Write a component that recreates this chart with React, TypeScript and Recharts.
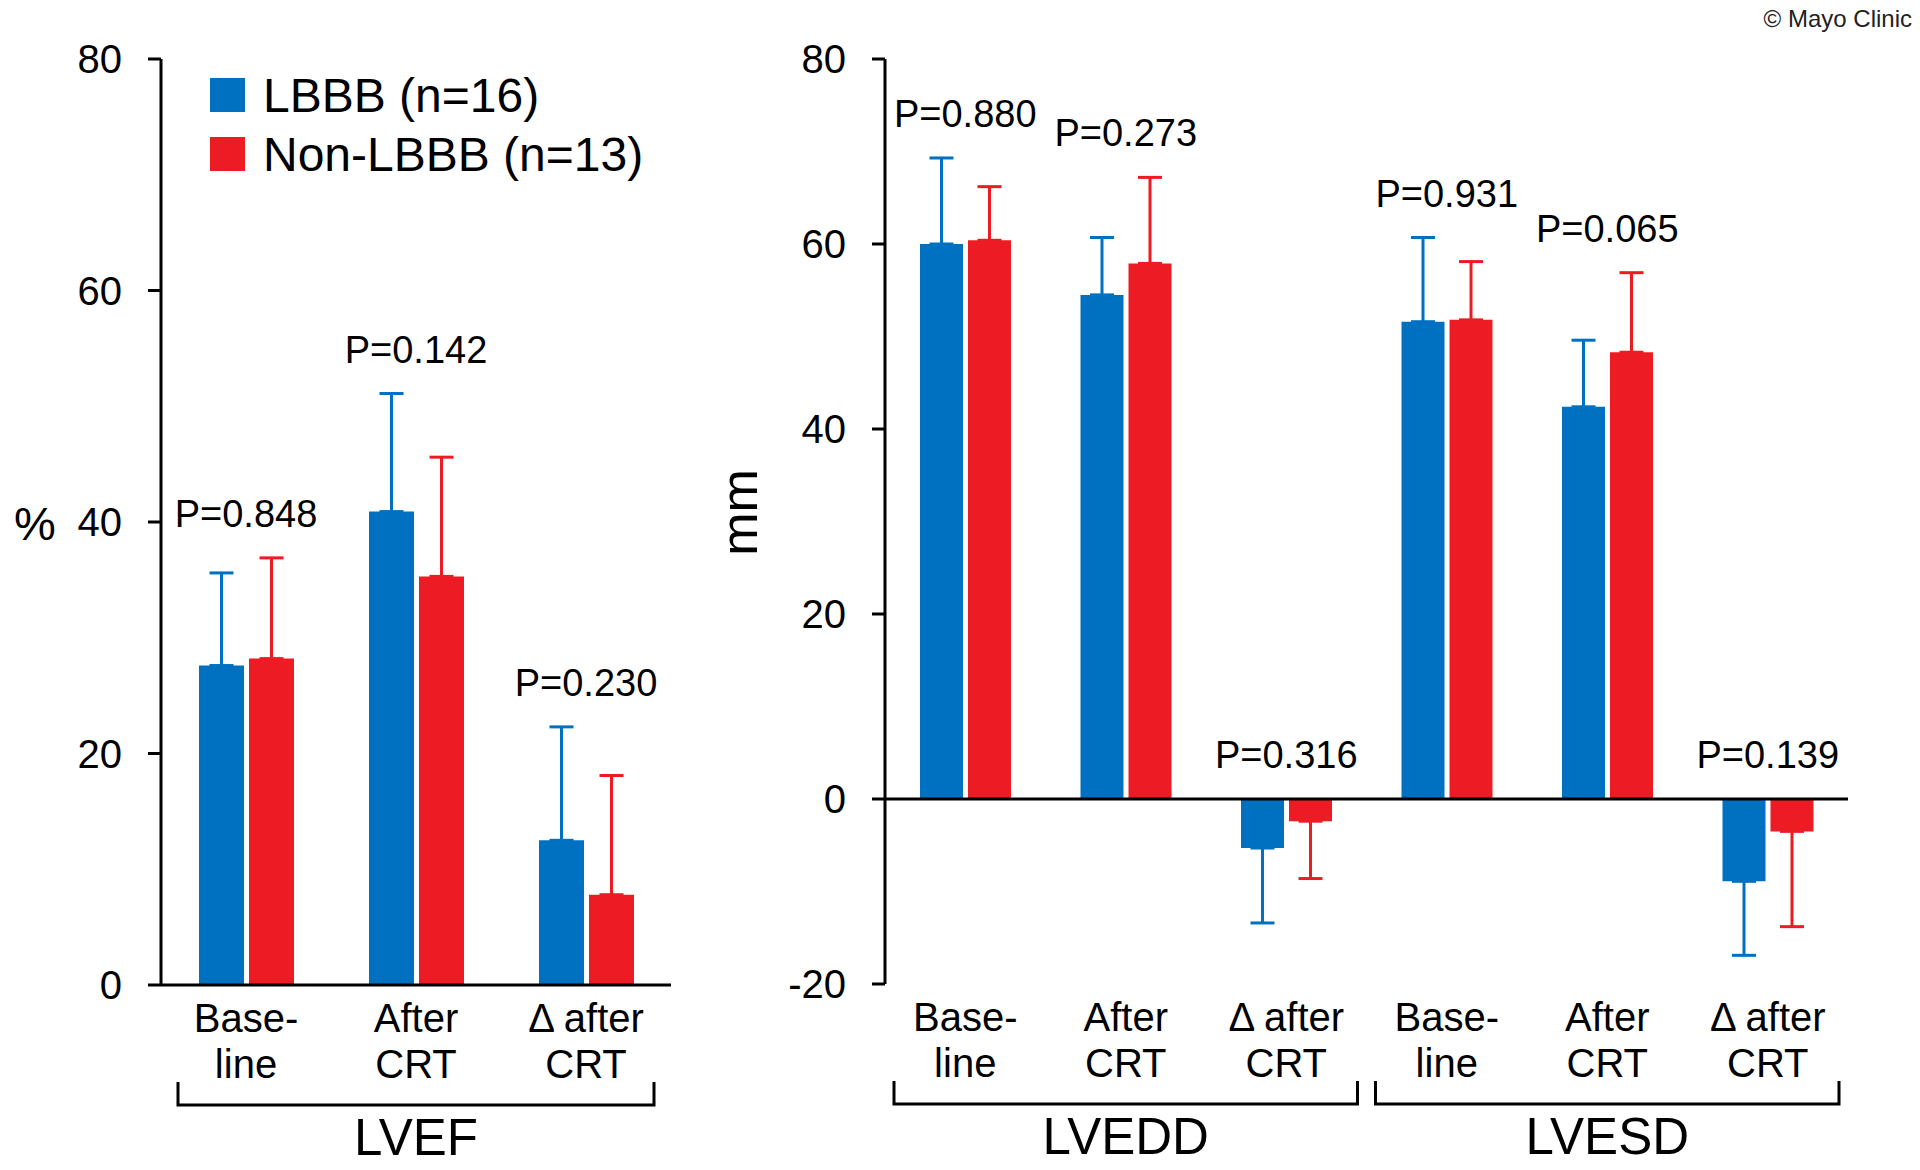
import React from 'react';
import {
  ComposedChart,
  Bar,
  Line,
  XAxis,
  YAxis,
  ErrorBar,
  ReferenceLine,
  LabelList,
  Legend,
  Label,
} from 'recharts';

const FONT = '"Liberation Sans", Arial, Helvetica, sans-serif';
const BLUE = '#0070c0';
const RED = '#ed1c24';

// ---- shared tick labels ----
const tickLabelLines = [
  ['Base-', 'line'],
  ['After', 'CRT'],
  ['\u0394 after', 'CRT'],
];

// ---- LVEF (%) ----
const lvefCategories = ['LVEF Baseline', 'LVEF After CRT', 'LVEF Delta after CRT'];
const lvefLbbb = [27.6, 40.9, 12.5];
const lvefLbbbSd = [8.0, 10.2, 9.8];
const lvefNonLbbb = [28.2, 35.3, 7.8];
const lvefNonLbbbSd = [8.7, 10.3, 10.3];
const lvefP = ['P=0.848', 'P=0.142', 'P=0.230'];
const lvefGroups = ['LVEF'];
const lvefTicks = [0, 20, 40, 60, 80];

// ---- LVEDD / LVESD (mm) ----
const dimCategories = [
  'LVEDD Baseline',
  'LVEDD After CRT',
  'LVEDD Delta after CRT',
  'LVESD Baseline',
  'LVESD After CRT',
  'LVESD Delta after CRT',
];
const dimLbbb = [60.0, 54.5, -5.3, 51.6, 42.4, -8.9];
const dimLbbbSd = [9.3, 6.2, 8.1, 9.1, 7.2, 8.0];
const dimNonLbbb = [60.4, 57.9, -2.4, 51.8, 48.3, -3.5];
const dimNonLbbbSd = [5.8, 9.3, 6.2, 6.3, 8.6, 10.3];
const dimP = ['P=0.880', 'P=0.273', 'P=0.316', 'P=0.931', 'P=0.065', 'P=0.139'];
const dimGroups = ['LVEDD', 'LVESD'];
const dimTicks = [-20, 0, 20, 40, 60, 80];

const legendItems = [
  { name: 'LBBB (n=16)', color: BLUE },
  { name: 'Non-LBBB (n=13)', color: RED },
];

function oneSided(v: number, sd: number): [number, number] {
  return v >= 0 ? [0, sd] : [sd, 0];
}

function buildRows(
  categories: string[],
  lbbb: number[],
  lbbbSd: number[],
  non: number[],
  nonSd: number[],
  p: string[]
) {
  return categories.map((c, i) => ({
    category: c,
    lbbb: lbbb[i],
    lbbbErr: oneSided(lbbb[i], lbbbSd[i]),
    nonLbbb: non[i],
    nonLbbbErr: oneSided(non[i], nonSd[i]),
    pAnchor: Math.max(
      0,
      lbbb[i] >= 0 ? lbbb[i] + lbbbSd[i] : lbbb[i],
      non[i] >= 0 ? non[i] + nonSd[i] : non[i]
    ),
    p: p[i],
  }));
}

const lvefRows = buildRows(lvefCategories, lvefLbbb, lvefLbbbSd, lvefNonLbbb, lvefNonLbbbSd, lvefP);
const dimRows = buildRows(dimCategories, dimLbbb, dimLbbbSd, dimNonLbbb, dimNonLbbbSd, dimP);

function makeCategoryTick(categories: string[], groups: string[], bandWidth: number, inset: number) {
  return function CategoryTick(props: any) {
    const { x, y, payload } = props;
    const i = categories.indexOf(payload.value);
    const lines = tickLabelLines[((i % 3) + 3) % 3];
    const isMiddle = i % 3 === 1;
    const g = Math.floor(i / 3);
    const left = x - 1.5 * bandWidth + inset;
    const right = x + 1.5 * bandWidth - inset;
    return (
      <g>
        <text x={x} y={y + 47} textAnchor="middle" fontSize={40} fontFamily={FONT} fill="#000">
          {lines[0]}
        </text>
        <text x={x} y={y + 93} textAnchor="middle" fontSize={40} fontFamily={FONT} fill="#000">
          {lines[1]}
        </text>
        {isMiddle && (
          <g>
            <polyline
              points={`${left},${y + 97} ${left},${y + 120} ${right},${y + 120} ${right},${y + 97}`}
              fill="none"
              stroke="#000"
              strokeWidth={3}
            />
            <text x={x} y={y + 170} textAnchor="middle" fontSize={51} fontFamily={FONT} fill="#000">
              {groups[g]}
            </text>
          </g>
        )}
      </g>
    );
  };
}

function PLabel(props: any) {
  const { x, y, value } = props;
  return (
    <text x={x} y={y - 31} textAnchor="middle" fontSize={38} fontFamily={FONT} fill="#000">
      {value}
    </text>
  );
}

function LegendContent() {
  return (
    <svg width={460} height={100} style={{ display: 'block', overflow: 'visible' }}>
      {legendItems.map((it, i) => (
        <g key={it.name}>
          <rect x={0} y={i * 59} width={35} height={34} fill={it.color} />
          <text x={53} y={i * 59 + 34} fontSize={48} fontFamily={FONT} fill="#000">
            {it.name}
          </text>
        </g>
      ))}
    </svg>
  );
}

const axisStroke = { stroke: '#000', strokeWidth: 3 };
const tickStyle = { fill: '#000', fontSize: 40, fontFamily: FONT };

export default function App() {
  return (
    <div style={{ position: 'absolute', left: 0, top: 0, width: 1920, height: 1170, background: '#fff' }}>
      {/* Left chart: LVEF */}
      <div style={{ position: 'absolute', left: 0, top: 0 }}>
        <ComposedChart
          width={700}
          height={1170}
          data={lvefRows}
          margin={{ top: 59, right: 29, bottom: 0, left: 0 }}
          barSize={45}
          barGap={5}
        >
          <XAxis
            dataKey="category"
            height={185}
            interval={0}
            axisLine={axisStroke}
            tickLine={false}
            tickSize={0}
            tickMargin={0}
            tick={makeCategoryTick(lvefCategories, lvefGroups, 170, 17)}
          />
          <YAxis
            width={161}
            domain={[0, 80]}
            ticks={lvefTicks}
            interval={0}
            axisLine={axisStroke}
            tickLine={axisStroke}
            tickSize={13}
            tickMargin={26}
            tick={tickStyle}
          >
            <Label
              value="%"
              content={(p: any) => {
                const vb = p.viewBox || { x: 0, y: 59, width: 161, height: 926 };
                return (
                  <text
                    x={vb.x + 35}
                    y={vb.y + vb.height / 2 + 18}
                    textAnchor="middle"
                    fontSize={47}
                    fontFamily={FONT}
                    fill="#000"
                  >
                    %
                  </text>
                );
              }}
            />
          </YAxis>
          <Legend
            layout="horizontal"
            verticalAlign="middle"
            align="center"
            wrapperStyle={{ left: 210, top: 78, width: 460, height: 100 }}
            content={() => <LegendContent />}
          />
          <Bar dataKey="lbbb" fill={BLUE} isAnimationActive={false}>
            <ErrorBar dataKey="lbbbErr" width={12} stroke={BLUE} strokeWidth={3} direction="y" />
          </Bar>
          <Bar dataKey="nonLbbb" fill={RED} isAnimationActive={false}>
            <ErrorBar dataKey="nonLbbbErr" width={12} stroke={RED} strokeWidth={3} direction="y" />
          </Bar>
          <Line
            dataKey="pAnchor"
            stroke="none"
            dot={false}
            activeDot={false}
            legendType="none"
            isAnimationActive={false}
          >
            <LabelList dataKey="p" content={PLabel} />
          </Line>
        </ComposedChart>
      </div>

      {/* Right chart: LVEDD / LVESD */}
      <div style={{ position: 'absolute', left: 700, top: 0 }}>
        <ComposedChart
          width={1220}
          height={1170}
          data={dimRows}
          margin={{ top: 59, right: 72, bottom: 0, left: 0 }}
          barSize={43}
          barGap={5}
        >
          <XAxis
            dataKey="category"
            height={186}
            interval={0}
            axisLine={false}
            tickLine={false}
            tickSize={0}
            tickMargin={0}
            tick={makeCategoryTick(dimCategories, dimGroups, 160.5, 9)}
          />
          <YAxis
            width={185}
            domain={[-20, 80]}
            ticks={dimTicks}
            interval={0}
            axisLine={axisStroke}
            tickLine={axisStroke}
            tickSize={13}
            tickMargin={26}
            tick={tickStyle}
          >
            <Label
              value="mm"
              content={(p: any) => {
                const vb = p.viewBox || { x: 0, y: 59, width: 185, height: 925 };
                const cx = vb.x + 57;
                const cy = vb.y + vb.height / 2 - 9;
                return (
                  <text
                    x={cx}
                    y={cy}
                    transform={`rotate(-90 ${cx} ${cy})`}
                    textAnchor="middle"
                    fontSize={52}
                    fontFamily={FONT}
                    fill="#000"
                  >
                    mm
                  </text>
                );
              }}
            />
          </YAxis>
          <ReferenceLine y={0} stroke="#000" strokeWidth={3} />
          <Bar dataKey="lbbb" fill={BLUE} isAnimationActive={false}>
            <ErrorBar dataKey="lbbbErr" width={12} stroke={BLUE} strokeWidth={3} direction="y" />
          </Bar>
          <Bar dataKey="nonLbbb" fill={RED} isAnimationActive={false}>
            <ErrorBar dataKey="nonLbbbErr" width={12} stroke={RED} strokeWidth={3} direction="y" />
          </Bar>
          <Line
            dataKey="pAnchor"
            stroke="none"
            dot={false}
            activeDot={false}
            legendType="none"
            isAnimationActive={false}
          >
            <LabelList dataKey="p" content={PLabel} />
          </Line>
        </ComposedChart>
      </div>

      {/* Copyright */}
      <svg
        width={1920}
        height={40}
        style={{ position: 'absolute', left: 0, top: 0, pointerEvents: 'none' }}
      >
        <text x={1912} y={27} textAnchor="end" fontSize={24} fontFamily={FONT} fill="#222">
          © Mayo Clinic
        </text>
      </svg>
    </div>
  );
}
